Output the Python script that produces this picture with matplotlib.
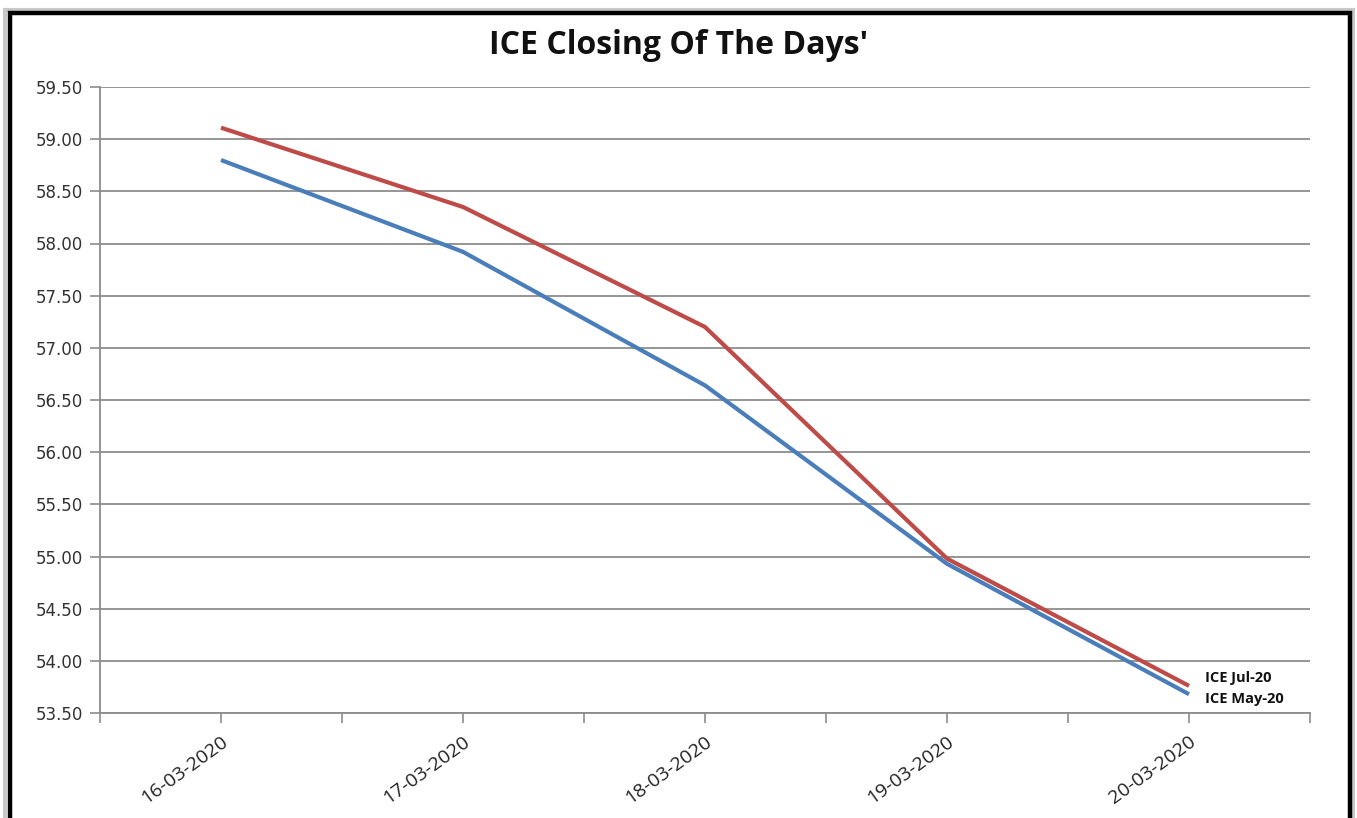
import matplotlib
matplotlib.use("Agg")
import matplotlib.pyplot as plt
from matplotlib.patches import Rectangle
from matplotlib.ticker import MultipleLocator, FixedLocator
import numpy as np

dates = ["16-03-2020", "17-03-2020", "18-03-2020", "19-03-2020", "20-03-2020"]
ice_jul20 = [59.11, 58.35, 57.20, 54.98, 53.76]
ice_may20 = [58.80, 57.92, 56.64, 54.93, 53.68]
series_names = ["ICE Jul-20", "ICE May-20"]
title = "ICE Closing Of The Days'"

W, H = 1357, 818
fig = plt.figure(figsize=(W / 100, H / 100), dpi=100)
fig.patch.set_facecolor("white")

ax = fig.add_axes([100 / W, 1 - 713 / H, (1310 - 100) / W, (713 - 87) / H])
x = np.arange(len(dates)) + 0.5

red = "#BE4B48"
blue = "#4A7EBB"
grid_c = "#8C8C8C"

ax.plot(x, ice_jul20, color=red, lw=3.0, solid_capstyle="butt", zorder=3)
ax.plot(x, ice_may20, color=blue, lw=3.0, solid_capstyle="butt", zorder=3)

ax.set_xlim(0, len(dates))
ax.set_ylim(53.5, 59.5)
ax.yaxis.set_major_locator(MultipleLocator(0.5))
ax.yaxis.set_major_formatter(matplotlib.ticker.FormatStrFormatter("%.2f"))
ax.grid(axis="y", color=grid_c, lw=1.3, zorder=1)
ax.set_axisbelow(True)

ax.set_xticks(x)
ax.set_xticklabels(dates, rotation=36, ha="right", rotation_mode="anchor",
                   fontsize=14, family="Open Sans", color="#222222")
ax.xaxis.set_minor_locator(FixedLocator(np.arange(0, len(dates) + 1)))
ax.tick_params(axis="x", which="both", length=7, width=1.2, color=grid_c, pad=7)
ax.tick_params(axis="y", length=7, width=1.2, color=grid_c, labelsize=12,
               labelcolor="#333333", pad=5)
for lab in ax.get_yticklabels():
    lab.set_family("DejaVu Sans")

for side in ["top", "right"]:
    ax.spines[side].set_visible(False)
for side in ["left", "bottom"]:
    ax.spines[side].set_color(grid_c)
    ax.spines[side].set_linewidth(1.3)

fig.text(679 / W, 1 - 45 / H, title, ha="center", va="center",
         fontsize=23, fontweight="bold", family="Open Sans", color="#111111")

ax.annotate(series_names[0], xy=(x[-1], ice_jul20[-1]), xytext=(16, 8),
            textcoords="offset pixels", fontsize=10.5, fontweight="bold",
            family="Open Sans", va="center", ha="left", color="#111111")
ax.annotate(series_names[1], xy=(x[-1], ice_may20[-1]), xytext=(16, -5),
            textcoords="offset pixels", fontsize=10.5, fontweight="bold",
            family="Open Sans", va="center", ha="left", color="#111111")

# outer frame with shadow
fig.patches.append(Rectangle((5 / W, -0.05), (1353 - 5) / W, 1.05 - 10 / H,
                             transform=fig.transFigure, fill=False,
                             edgecolor="#C8C8C8", lw=3, zorder=0))
fig.patches.append(Rectangle((9.5 / W, -0.05), (1350 - 9.5) / W, 1.05 - 13.5 / H,
                             transform=fig.transFigure, fill=False,
                             edgecolor="black", lw=3.2, zorder=1))

fig.savefig("out.png", dpi=100, facecolor="white")
